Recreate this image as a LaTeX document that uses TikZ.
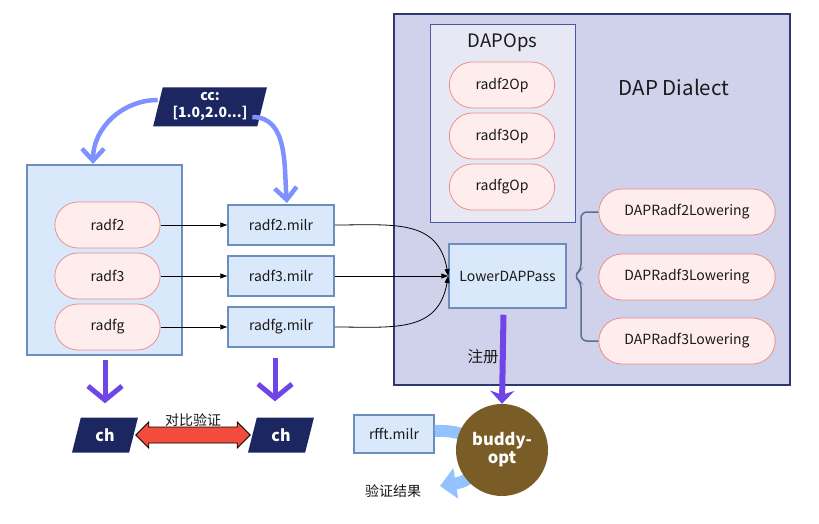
\documentclass[tikz,border=0pt]{standalone}
\usepackage{fontspec}
\setmainfont{Noto Sans CJK SC}
\usepackage{tikz}
\usetikzlibrary{positioning,calc,shapes.misc,shapes.geometric,arrows.meta}
\definecolor{ground}{HTML}{FFFFFF}
\definecolor{boxfill}{HTML}{DAE8FC}
\definecolor{boxline}{HTML}{6C8EBF}
\definecolor{pillfill}{HTML}{FFECEC}
\definecolor{pillline}{HTML}{EA8F8C}
\definecolor{dialfill}{HTML}{D0D1EA}
\definecolor{dialline}{HTML}{2E3A6E}
\definecolor{opsfill}{HTML}{E8E8F5}
\definecolor{opsline}{HTML}{4A58A8}
\definecolor{navy}{HTML}{1C2660}
\definecolor{flowblue}{HTML}{7F90FF}
\definecolor{purple}{HTML}{6E45E6}
\definecolor{brown}{HTML}{7A5C26}
\definecolor{skyband}{HTML}{92C3FF}
\definecolor{redarrow}{HTML}{F44C3C}
\definecolor{braceline}{HTML}{5A7090}
\definecolor{ink}{HTML}{1A1A1A}
\tikzset{
  pill/.style     = {rounded rectangle, draw=pillline, fill=pillfill, line width=0.8pt, minimum width=112, minimum height=46, font=\fontsize{14}{16}\selectfont\color{ink}},
  lowpill/.style  = {pill, minimum width=183},
  file/.style     = {rectangle, draw=boxline, fill=boxfill, line width=1.5pt, minimum width=106, minimum height=40, font=\fontsize{14}{16}\selectfont\color{ink}},
  para/.style     = {trapezium, trapezium left angle=75, trapezium right angle=105, trapezium stretches=true, fill=navy, text=white, font=\fontsize{14}{17}\selectfont\bfseries, align=center, inner sep=0pt},
  feed/.style     = {-{Triangle[length=7pt,width=5pt]}, draw=black, line width=0.8pt},
  bluecurve/.style= {-{Straight Barb[length=12pt,width=22pt]}, draw=flowblue, line width=4.5pt},
  down/.style     = {-{Straight Barb[length=14pt,width=34pt]}, draw=purple, line width=5pt},
  lab/.style      = {font=\fontsize{14}{16}\selectfont\color{ink}, inner sep=0pt},
}
\begin{document}
\begin{tikzpicture}[x=1pt,y=-1pt]
\path[use as bounding box, fill=ground] (0,0) rectangle (819,524);

% ---- DAP dialect -------------------------------------------------------
\node[draw=dialline, fill=dialfill, line width=1.5pt, minimum width=396, minimum height=371] (dialect) at (592,199.5) {};
\node[draw=opsline, fill=opsfill, line width=1pt, minimum width=145, minimum height=197] (ops) at (502.5,123.5) {};
\node[font=\fontsize{18.5}{20}\selectfont\color{ink}, inner sep=0pt] (opstitle) at (502.5,43) {DAPOps};
\node[font=\fontsize{20.5}{22}\selectfont\color{ink}, inner sep=0pt] (dialtitle) at (674,87) {DAP Dialect};

\node[pill] (op2) at (502,85) {radf2Op};
\node[pill] (op3) at (502,136) {radf3Op};
\node[pill] (opg) at (502,187) {radfgOp};

\node[file, minimum width=117, minimum height=64] (pass) at (507.5,276) {LowerDAPPass};

\node[lowpill] (low2) at (687,212) {DAPRadf2Lowering};
\node[lowpill] (low3) at (687,277) {DAPRadf3Lowering};
\node[lowpill] (lowg) at (687,341) {DAPRadf3Lowering};

% brace from the pass to its patterns
\draw[braceline, line width=1.5pt, rounded corners=6pt]
  (low2.west) -- (581,212) -- (581,270) -- ($(pass.east)+(7,0)$) -- (581,282) -- (581,341) -- (lowg.west);

\node[lab, font=\fontsize{15.5}{17}\selectfont\color{ink}] (reg) at (483,357) {注册};

% ---- sources -----------------------------------------------------------
\node[file, minimum width=155, minimum height=190] (src) at (104.5,260) {};
\node[pill] (f2) at (107.5,225) {radf2};
\node[pill] (f3) at (107.5,276) {radf3};
\node[pill] (fg) at (107.5,327) {radfg};

\node[file] (m2) at (281,225) {radf2.milr};
\node[file] (m3) at (281,276) {radf3.milr};
\node[file] (mg) at (281,327) {radfg.milr};

\draw[feed] (f2.east) -- (m2.west);
\draw[feed] (f3.east) -- (m3.west);
\draw[feed] (fg.east) -- (mg.west);

\draw[feed] (m2.east) to[out=0, in=100, looseness=1.2] (pass.west);
\draw[feed] (m3.east) -- (pass.west);
\draw[feed] (mg.east) to[out=0, in=260, looseness=1.2] (pass.west);

% ---- cc input ------------------------------------------------------------
\node[para, minimum width=114, minimum height=39] (cc) at (210,107) {cc:\\{[1.0,2.0...]}};
\draw[bluecurve] ($(cc.west)+(0,-7)$) to[out=180, in=90] (93,164);
\draw[bluecurve] ($(cc.east)+(-10,10)$) to[out=0, in=95] (287,203);

% ---- results ---------------------------------------------------------------
\node[para, minimum width=66, minimum height=35, font=\fontsize{16}{18}\selectfont\bfseries] (chl) at (105,435) {ch};
\node[para, minimum width=66, minimum height=35, font=\fontsize{16}{18}\selectfont\bfseries] (chr) at (281,435) {ch};
\coordinate (dl) at (105,360);
\coordinate (dr) at (275,358);
\draw[down] (dl) -- ($(dl |- chl.north)+(0,-14)$);
\draw[down] (dr) -- ($(dr |- chr.north)+(0,-16)$);

% double arrow between the two results
\coordinate (ca) at ($(chl.east)+(2,0)$);
\coordinate (cb) at ($(chr.west)+(-2,0)$);
\draw[black, fill=redarrow, line width=0.8pt]
  (ca) -- ++(13,-13) -- ++(0,5) -- ($(cb)+(-13,-8)$) -- ++(0,-5) -- (cb)
  -- ++(-13,13) -- ++(0,-5) -- ($(ca)+(13,8)$) -- ++(0,5) -- cycle;
\node[lab] (cmplab) at ($(ca)!.5!(cb)+(0,-15)$) {对比验证};

% ---- buddy-opt -------------------------------------------------------------
\node[file, minimum width=80, minimum height=38] (rfft) at (394,434) {rfft.milr};
\draw[-{Triangle[length=16pt,width=30pt]}, draw=skyband, line width=12pt]
  ($(rfft.east)+(0,-3)$) .. controls (495,428) and (490,478) .. (440,486);
\node[circle, fill=brown, minimum size=92, text=white, align=center, font=\fontsize{16.5}{18}\selectfont\bfseries, inner sep=0pt] (buddy) at (502,450) {buddy-\\opt};
\draw[-{Stealth[length=13pt,width=24pt,inset=4pt]}, draw=purple, line width=6pt] ($(pass.south)+(-4,6)$) -- (buddy.north);
\node[lab] (verify) at (393,491) {验证结果};

\end{tikzpicture}
\end{document}
